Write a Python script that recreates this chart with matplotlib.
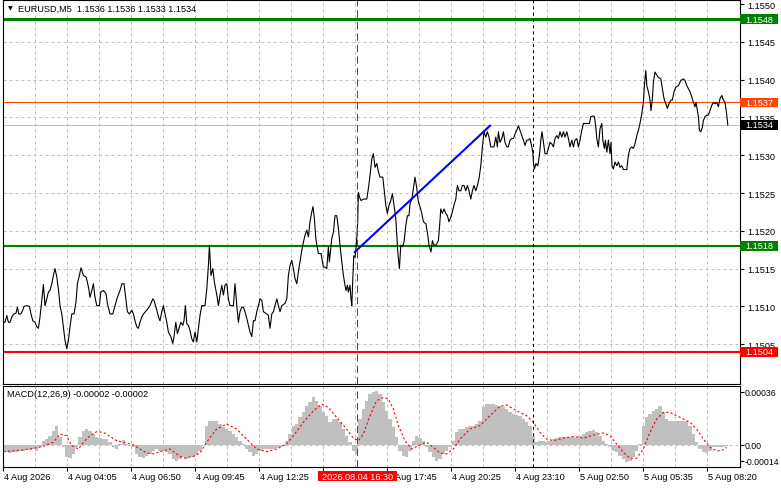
import numpy as np
import matplotlib
matplotlib.use("Agg")
import matplotlib.pyplot as plt
from matplotlib.patches import Rectangle
from matplotlib.transforms import blended_transform_factory

# ---- data ----
# close line of EURUSD M5, x in bars from the left edge
bar_pos = [
    0.0, 1.0, 1.9, 2.7, 3.5, 4.4, 5.5, 6.5, 7.2, 7.9, 8.9, 9.9, 10.5, 11.9, 13.2, 14.0, 14.9, 16.0, 16.9, 17.7,
    18.5, 19.4, 20.2, 21.0, 21.9, 22.7, 23.5, 24.4, 25.2, 26.0, 26.9, 27.7, 28.5, 29.4, 30.2, 31.0, 31.9, 32.7,
    33.5, 34.4, 35.5, 36.5, 37.2, 38.2, 39.0, 40.2, 41.5, 42.2, 42.9, 43.5, 44.4, 45.2, 46.0, 46.9, 48.2, 48.9,
    50.2, 51.5, 52.2, 53.5, 54.9, 56.0, 57.2, 58.5, 59.5, 60.5, 61.4, 62.2, 63.2, 64.4, 65.2, 66.0, 66.9, 67.7,
    68.5, 69.4, 70.2, 71.9, 73.5, 74.9, 75.5, 76.9, 78.0, 78.5, 79.4, 80.2, 81.0, 81.9, 82.7, 83.9, 84.9, 85.5,
    86.4, 87.2, 88.0, 88.9, 89.9, 90.5, 91.2, 91.9, 92.7, 93.5, 94.4, 95.2, 96.0, 96.9, 97.7, 98.5, 99.4, 101.0,
    101.9, 102.7, 103.2, 104.0, 104.9, 105.7, 106.9, 107.7, 108.5, 109.4, 110.2, 111.0, 111.9, 112.7, 113.5,
    115.2, 116.0, 116.9, 117.7, 118.5, 119.4, 120.2, 121.0, 121.9, 122.7, 123.5, 124.4, 125.2, 126.0, 126.9,
    127.7, 128.5, 129.4, 130.2, 131.9, 132.7, 133.5, 134.4, 135.2, 136.0, 136.9, 137.7, 138.5, 139.4, 141.0,
    141.9, 142.7, 143.5, 144.4, 145.2, 146.0, 146.9, 147.7, 148.5, 149.4, 150.2, 151.0, 151.9, 152.7, 153.5,
    154.4, 155.0, 155.7, 156.4, 156.9, 157.7, 159.0, 159.7, 160.2, 161.0, 161.9, 162.7, 163.2, 163.7, 164.4,
    165.2, 166.0, 166.9, 167.7, 168.5, 169.4, 170.2, 171.0, 171.5, 172.2, 172.7, 173.5, 174.0, 174.4, 174.9,
    175.4, 176.0, 176.4, 177.0, 177.4, 177.7, 178.2, 179.0, 180.2, 181.9, 182.7, 183.5, 184.4, 185.2, 186.0,
    186.9, 187.7, 188.5, 189.9, 190.5, 191.4, 192.2, 193.0, 193.9, 194.7, 195.5, 196.4, 196.9, 197.4, 198.2,
    198.9, 199.7, 200.5, 201.4, 202.2, 203.0, 203.5, 204.4, 205.2, 206.0, 206.9, 207.7, 208.5, 209.4, 210.2,
    211.5, 212.4, 213.0, 214.0, 214.7, 215.5, 216.5, 217.7, 218.2, 218.9, 219.7, 220.5, 221.4, 222.2, 223.0,
    223.9, 224.7, 225.5, 226.4, 227.2, 228.0, 228.9, 229.7, 230.5, 231.4, 232.2, 233.0, 233.9, 234.7, 235.5,
    236.4, 237.2, 238.0, 238.9, 239.7, 240.5, 241.4, 242.2, 243.0, 243.9, 244.7, 245.5, 246.4, 247.2, 247.7,
    248.5, 249.4, 250.2, 251.0, 251.9, 252.7, 253.5, 254.4, 255.2, 256.0, 256.9, 257.7, 258.5, 259.4, 260.2,
    261.0, 261.9, 262.7, 263.5, 264.4, 264.9, 265.2, 265.7, 266.5, 267.4, 268.2, 269.0, 269.5, 270.2, 271.0,
    271.9, 272.7, 273.5, 274.4, 275.2, 276.0, 276.9, 277.7, 278.5, 279.4, 280.2, 281.0, 281.9, 282.7, 283.5,
    284.4, 285.2, 286.0, 286.9, 287.7, 288.5, 289.4, 290.2, 291.9, 293.2, 293.9, 294.9, 295.7, 296.4, 296.9,
    297.7, 298.5, 299.4, 299.9, 300.7, 301.2, 301.9, 302.7, 303.5, 304.0, 304.5, 305.2, 306.0, 306.9, 307.7,
    308.5, 309.4, 310.2, 311.9, 312.7, 313.5, 314.4, 315.2, 316.0, 316.9, 317.7, 318.5, 319.4, 320.2, 320.7,
    321.4, 321.9, 322.7, 323.5, 324.0, 324.7, 325.2, 326.0, 326.9, 327.7, 328.9, 329.7, 330.5, 331.4, 332.2,
    333.0, 333.9, 334.7, 335.5, 336.4, 337.7, 338.9, 340.2, 341.0, 341.9, 342.7, 343.5, 344.4, 345.2, 346.0,
    346.5, 347.0, 347.7, 348.2, 348.9, 349.7, 350.2, 351.0, 351.9, 352.7, 353.5, 354.4, 355.2, 356.0, 356.9,
    357.7, 358.5, 359.4, 360.2, 361.0, 361.9, 362.4,
]
close = [
    1.15079, 1.15079, 1.15088, 1.15079, 1.15079, 1.15086, 1.15090, 1.15091, 1.15099, 1.15090, 1.15090, 1.15095,
    1.15100, 1.15101, 1.15100, 1.15090, 1.15081, 1.15079, 1.15073, 1.15071,
    1.15086, 1.15108, 1.15129, 1.15101, 1.15110, 1.15119, 1.15121, 1.15130, 1.15141, 1.15150, 1.15139, 1.15123,
    1.15101, 1.15090, 1.15073, 1.15055, 1.15044, 1.15055,
    1.15073, 1.15090, 1.15090, 1.15106, 1.15130, 1.15141, 1.15151, 1.15141, 1.15139, 1.15132, 1.15123, 1.15112,
    1.15121, 1.15130, 1.15112, 1.15101, 1.15101, 1.15119,
    1.15121, 1.15117, 1.15104, 1.15090, 1.15090, 1.15101, 1.15112, 1.15121, 1.15130, 1.15130, 1.15110, 1.15093,
    1.15090, 1.15095, 1.15090, 1.15081, 1.15073, 1.15071,
    1.15079, 1.15086, 1.15090, 1.15095, 1.15101, 1.15110, 1.15108, 1.15095, 1.15084, 1.15081, 1.15093, 1.15101,
    1.15090, 1.15079, 1.15066, 1.15060, 1.15051, 1.15060,
    1.15079, 1.15064, 1.15071, 1.15079, 1.15075, 1.15081, 1.15101, 1.15077, 1.15075, 1.15068, 1.15057, 1.15053,
    1.15066, 1.15053, 1.15071, 1.15088, 1.15101, 1.15101,
    1.15123, 1.15154, 1.15181, 1.15141, 1.15150, 1.15132, 1.15115, 1.15101, 1.15115, 1.15128, 1.15115, 1.15128,
    1.15130, 1.15110, 1.15101,
    1.15101, 1.15130, 1.15101, 1.15079, 1.15093, 1.15099, 1.15099, 1.15093, 1.15084, 1.15075, 1.15066, 1.15060,
    1.15081, 1.15081, 1.15093,
    1.15101, 1.15110, 1.15108, 1.15093, 1.15090, 1.15088, 1.15071, 1.15090, 1.15093, 1.15101, 1.15110, 1.15101,
    1.15093, 1.15101, 1.15104,
    1.15110, 1.15141, 1.15154, 1.15161, 1.15150, 1.15137, 1.15130, 1.15146, 1.15159, 1.15174, 1.15185, 1.15194,
    1.15201, 1.15192, 1.15212,
    1.15225, 1.15232, 1.15216, 1.15190, 1.15181, 1.15170, 1.15170, 1.15159, 1.15152, 1.15152, 1.15150, 1.15179,
    1.15159, 1.15172, 1.15190,
    1.15198, 1.15220, 1.15220, 1.15203, 1.15181, 1.15159, 1.15141, 1.15128, 1.15121, 1.15128, 1.15119, 1.15128,
    1.15110, 1.15101, 1.15137,
    1.15167, 1.15165, 1.15174, 1.15194, 1.15216, 1.15251, 1.15245, 1.15240, 1.15242, 1.15242, 1.15256, 1.15273,
    1.15295, 1.15302, 1.15284,
    1.15289, 1.15278, 1.15271, 1.15271, 1.15256, 1.15234, 1.15223, 1.15234, 1.15240, 1.15249, 1.15234, 1.15216,
    1.15194, 1.15172, 1.15150,
    1.15181, 1.15179, 1.15185, 1.15207, 1.15220, 1.15220, 1.15236, 1.15242, 1.15256, 1.15271, 1.15256, 1.15238,
    1.15232, 1.15223, 1.15212,
    1.15209, 1.15194, 1.15181, 1.15172, 1.15187, 1.15181, 1.15181, 1.15187, 1.15203, 1.15229, 1.15223, 1.15229,
    1.15223, 1.15220, 1.15212,
    1.15218, 1.15225, 1.15234, 1.15242, 1.15260, 1.15253, 1.15253, 1.15260, 1.15260, 1.15253, 1.15260, 1.15253,
    1.15242, 1.15253, 1.15260,
    1.15253, 1.15260, 1.15269, 1.15286, 1.15311, 1.15331, 1.15324, 1.15331, 1.15324, 1.15311, 1.15311, 1.15311,
    1.15324, 1.15311, 1.15331,
    1.15317, 1.15322, 1.15331, 1.15317, 1.15311, 1.15311, 1.15320, 1.15322, 1.15322, 1.15328, 1.15333, 1.15339,
    1.15333, 1.15326, 1.15320,
    1.15313, 1.15320, 1.15320, 1.15322, 1.15311, 1.15304, 1.15291, 1.15282, 1.15289, 1.15286, 1.15300, 1.15322,
    1.15331, 1.15317, 1.15302,
    1.15302, 1.15309, 1.15317, 1.15315, 1.15311, 1.15322, 1.15326, 1.15322, 1.15331, 1.15324, 1.15331, 1.15324,
    1.15331, 1.15322, 1.15311,
    1.15320, 1.15311, 1.15320, 1.15322, 1.15311, 1.15320, 1.15333, 1.15342, 1.15342, 1.15342, 1.15351, 1.15352,
    1.15351, 1.15337, 1.15322,
    1.15311, 1.15335, 1.15342, 1.15320, 1.15309, 1.15320, 1.15304, 1.15320, 1.15302, 1.15317, 1.15286, 1.15282,
    1.15291, 1.15286, 1.15291,
    1.15284, 1.15286, 1.15281, 1.15281, 1.15300, 1.15309, 1.15311, 1.15309, 1.15315, 1.15326, 1.15333, 1.15342,
    1.15355, 1.15370, 1.15392,
    1.15412, 1.15392, 1.15384, 1.15373, 1.15359, 1.15375, 1.15397, 1.15410, 1.15406, 1.15403, 1.15401, 1.15388,
    1.15375, 1.15368, 1.15362,
    1.15368, 1.15373, 1.15373, 1.15384, 1.15390, 1.15392, 1.15399, 1.15401, 1.15399, 1.15392, 1.15388, 1.15384,
    1.15377, 1.15370, 1.15364,
    1.15370, 1.15362, 1.15351, 1.15333, 1.15331, 1.15337, 1.15346, 1.15351, 1.15353, 1.15353, 1.15359, 1.15366,
    1.15370, 1.15368, 1.15370,
    1.15364, 1.15375, 1.15379, 1.15373, 1.15370, 1.15353, 1.15340,
]

# MACD histogram, 1e-5 units, one sample every 5/3 bars
macd_hist = [
    -4.9, -4.9, -5.3, -4.9, -4.5, -3.9, -3.9, -3.4, -3.4, -2.8,
    -3.9, -1.8, 2.4, 3.4, 5.5, 8.6, 11.8, 4.5, -1.8, -8.0,
    -8.6, -5.9, -1.8, 4.5, 8.6, 9.7, 8.6, 6.6, 4.5, 3.9,
    3.4, 3.4, 1.4, -1.8, -2.8, 0.3, 2.8, 0.3, -0.7, -1.8,
    -5.9, -8.0, -8.6, -7.0, -5.9, -3.9, -2.8, -3.9, -3.9, -4.9,
    -5.9, -9.1, -10.1, -9.1, -8.0, -9.1, -8.0, -8.0, -5.9, -3.9,
    -0.7, 11.8, 14.9, 14.9, 14.9, 12.8, 10.7, 9.7, 8.6, 6.6,
    4.5, 2.4, 0.3, -2.8, -4.9, -7.0, -5.9, -3.9, -2.8, -2.8,
    -2.8, -2.8, -2.4, -1.8, -0.7, 2.4, 6.6, 11.8, 12.8, 17.0,
    20.1, 24.3, 26.4, 29.5, 27.4, 24.3, 20.1, 18.0, 13.9, 15.9,
    15.9, 13.9, 9.7, 5.5, 1.4, -3.9, -5.9, 15.9, 22.2, 27.4,
    31.6, 32.6, 33.6, 31.6,
    26.4, 21.1, 15.9, 10.7, 4.5, -3.9, -7.0, -8.0, -3.9, 2.4,
    5.1, 3.9, 2.4, -1.8, -4.9, -8.0, -10.1, -9.1, -5.9, -3.9,
    -1.8, 2.4, 7.6, 9.7, 9.7, 10.7, 11.8, 11.8, 12.8, 14.9,
    23.2, 25.3, 25.3, 25.3, 24.7, 23.9, 23.2, 22.2, 20.5, 19.1,
    18.4, 17.6, 15.9, 14.3, 11.8, 5.5, 1.4, 2.4, 2.4, 1.4,
    2.4, 3.4, 3.9, 4.5, 4.5, 4.9, 4.9, 4.5, 3.9, 5.5,
    6.6, 7.6, 8.6, 9.3, 7.6, 5.5, 2.4, 0.3, -1.8, -3.9,
    -4.9, -7.0, -9.1, -11.1, -10.1, -8.0, -3.9, 0.3, 11.8, 17.0,
    19.1, 21.1, 22.2, 23.9, 20.1, 15.9, 14.9, 14.9, 14.9, 14.9,
    14.9, 14.9, 11.8, 6.6, 1.4, -2.8, -4.9, -5.3, -3.9, -1.8,
    -1.8, -1.8, -1.8, -0.7,
]

# MACD signal line (1e-5 units)
sig_bar = [
    0.2, 5.2, 10.2, 15.2, 20.2, 25.2, 28.5, 31.8, 34.3, 37.7, 40.2, 43.5, 46.8, 50.2, 53.5, 56.8, 60.2, 65.2,
    68.5, 71.8, 75.2, 80.2, 83.5, 86.8, 90.2, 95.2, 98.5, 101.8, 106.8, 111.8, 116.8, 121.8, 126.8, 131.8,
    136.8, 141.8, 145.2, 150.2, 155.2, 159.3, 162.7, 166.8, 171.8, 175.2, 177.7, 180.2, 183.5, 186.8, 190.2,
    192.7, 195.2, 197.7, 201.0, 204.3, 207.7, 211.8, 215.2, 218.5, 221.8, 225.2, 228.5, 233.5, 238.5, 243.5,
    248.5, 251.8, 256.8, 261.8, 265.2, 268.5, 271.8, 275.2, 280.2, 285.2, 290.2, 295.2, 300.2, 303.5, 306.8,
    310.2, 313.5, 316.8, 320.2, 323.5, 326.8, 330.2, 333.5, 338.5, 343.5, 346.8, 350.2, 353.5, 356.8, 359.3,
    361.8,
]
sig_vals = [
    -4.5, -3.9, -3.4, -2.4, -1.1, 1.4, 6.6, 5.5, -0.7, -2.8, 1.4, 5.5, 8.0, 7.6, 5.1, 2.4, 1.4, -0.3,
    -2.8, -5.3, -5.9, -3.9, -2.8, -5.9, -8.6, -7.4, -5.3, 1.4, 9.7, 12.8, 9.7, 3.4, -2.8, -4.5,
    -2.8, 0.3, 5.5, 13.9, 21.1, 25.3, 23.2, 17.0, 9.7, 3.9, 2.4, 6.6, 18.0, 27.4, 29.5,
    28.4, 22.2, 11.8, 2.4, -2.8, -0.7, 1.4, -1.8, -5.3, -5.9, -2.8, 3.4, 9.7, 11.8, 18.0,
    23.9, 24.7, 21.1, 18.0, 13.9, 7.6, 3.4, 2.4, 3.9, 5.1, 3.9, 5.9, 7.2, 5.5, 0.3,
    -4.9, -8.6, -8.6, -2.8, 7.6, 15.9, 20.1, 20.1, 17.0, 13.9, 9.7, 3.4, -1.8, -3.9, -3.9,
    -1.8,
]

levels = [1.1548, 1.1537, 1.1518, 1.1504]
level_colors = ["#008000", "#FF4500", "#008000", "#FF0000"]
level_widths = [2.2, 0.75, 1.5, 1.5]
bid = 1.1534

trend_bars = [175.5, 243.9]
trend_prices = [1.15171, 1.15340]

red_vline = 177.2
black_vline = 265.2

tick_bars = [0, 32, 64, 96, 128, 192, 224, 256, 288, 320, 352]
tick_labels = ["4 Aug 2026", "4 Aug 04:05", "4 Aug 06:50", "4 Aug 09:45", "4 Aug 12:25", "4 Aug 17:45",
               "4 Aug 20:25", "4 Aug 23:10", "5 Aug 02:50", "5 Aug 05:35", "5 Aug 08:20"]
cursor_label = "2026.08.04 16:30"
title = "EURUSD,M5  1.1536 1.1536 1.1533 1.1534"
macd_title = "MACD(12,26,9) -0.00002 -0.00002"

# ---- figure ----
W, H = 781, 489
FS = 6.6
GRID = "#C0C0C0"
plt.rcParams['font.family'] = ['Liberation Sans', 'DejaVu Sans']

fig = plt.figure(figsize=(W / 100, H / 100), dpi=100)


def px_axes(x0, y0, x1, y1):
    return fig.add_axes([x0 / W, 1 - y1 / H, (x1 - x0) / W, (y1 - y0) / H])


ax = px_axes(2.5, 0.5, 740, 384.5)
mx = px_axes(2.5, 386.5, 740, 467.5)

xlim = (-0.25, 368.5)
for a in (ax, mx):
    a.set_xlim(*xlim)
    for s in a.spines.values():
        s.set_color("black")
        s.set_linewidth(0.8)
    for b in range(16, 368, 16):
        a.axvline(b, color=GRID, lw=0.72, dashes=(3, 3), zorder=0)

# main panel
ax.set_ylim(1.14998, 1.15506)
price_ticks = np.round(np.arange(1.1505, 1.15501, 0.0005), 4)
for p in price_ticks[:-1]:
    ax.axhline(p, color=GRID, lw=0.72, dashes=(3, 3), zorder=0)
ax.yaxis.tick_right()
ax.set_yticks(price_ticks)
ax.set_yticklabels(["%.4f" % p for p in price_ticks])
ax.tick_params(axis="y", length=3, width=0.8, pad=2, labelsize=FS, colors="black")
ax.set_xticks([])

ax.axhline(bid, color="#C0C0C0", lw=0.75, zorder=1)
for lv, c, w in zip(levels, level_colors, level_widths):
    ax.axhline(lv, color=c, lw=w, zorder=2)

ax.plot(bar_pos, close, color="black", lw=0.8, zorder=3)
ax.plot(trend_bars, trend_prices, color="#0000FF", lw=1.5, zorder=4, solid_capstyle="butt")

for a in (ax, mx):
    a.axvline(red_vline, color="#FF0000", lw=0.75, dashes=(7, 4), zorder=5)
    a.axvline(black_vline, color="black", lw=0.75, dashes=(3, 3), zorder=5)

# price boxes on the right scale
tr = blended_transform_factory(ax.transAxes, ax.transData)
box_w = 38 / 737.5
box_h = 9.5 / 75600
for lv, c in list(zip(levels, level_colors)) + [(bid, "black")]:
    ax.add_patch(Rectangle((1.0, lv - box_h / 2), box_w, box_h, transform=tr, facecolor=c,
                           edgecolor="none", clip_on=False, zorder=10))
    ax.text(1.0 + 5.5 / 737.5, lv, "%.4f" % lv, transform=tr, color="white", fontsize=FS,
            ha="left", va="center", zorder=11, clip_on=False)

ax.text(5.5 / 737.5, 1 - 8.5 / 384, "\u25BC", transform=ax.transAxes, fontsize=4.5,
        family="DejaVu Sans", ha="left", va="center")
ax.text(15.5 / 737.5, 1 - 8.5 / 384, title, transform=ax.transAxes, fontsize=FS,
        ha="left", va="center")

# MACD panel
mx.set_ylim(-0.0001375, 0.000369)
mx.axhline(0, color=GRID, lw=0.72, dashes=(3, 3), zorder=0)
hist = np.array(macd_hist) * 1e-5
hist_x = (np.arange(1, len(hist) + 1) * 10 / 3 - 3) / 2
mx.bar(hist_x, hist, width=5 / 3, color="#C0C0C0", linewidth=0, zorder=1)
mx.plot(sig_bar, np.array(sig_vals) * 1e-5, color="#FF0000", lw=0.8, dashes=(2, 2), zorder=3)

mx.yaxis.tick_right()
mx.set_yticks([0.00033, 0.0, -0.000101])
mx.set_yticklabels(["0.00036", "0.00", "-0.00014"])
mx.tick_params(axis="y", length=3, width=0.8, pad=0.6, labelsize=6.3, colors="black")

mx.set_xticks(tick_bars + [160])
mx.set_xticklabels([])
mx.tick_params(axis="x", length=3, width=0.8, direction="out", colors="black")
trx = blended_transform_factory(mx.transData, mx.transAxes)
for b, lab in zip(tick_bars, tick_labels):
    mx.text(b + 0.4, -10.5 / 81, lab, transform=trx, fontsize=FS, ha="left", va="center",
            clip_on=False)

# cursor time box under the red line
mx.add_patch(Rectangle((red_vline - 19.6, -14.8 / 81), 39.2, 10.6 / 81, transform=trx,
                       facecolor="#FF0000", edgecolor="none", clip_on=False, zorder=10))
mx.text(red_vline, -9.8 / 81, cursor_label, transform=trx, color="white", fontsize=FS,
        ha="center", va="center", zorder=11, clip_on=False)

mx.text(4.5 / 737.5, 1 - 8.5 / 81, macd_title, transform=mx.transAxes, fontsize=FS,
        ha="left", va="center")

fig.savefig("out.png", dpi=100)
